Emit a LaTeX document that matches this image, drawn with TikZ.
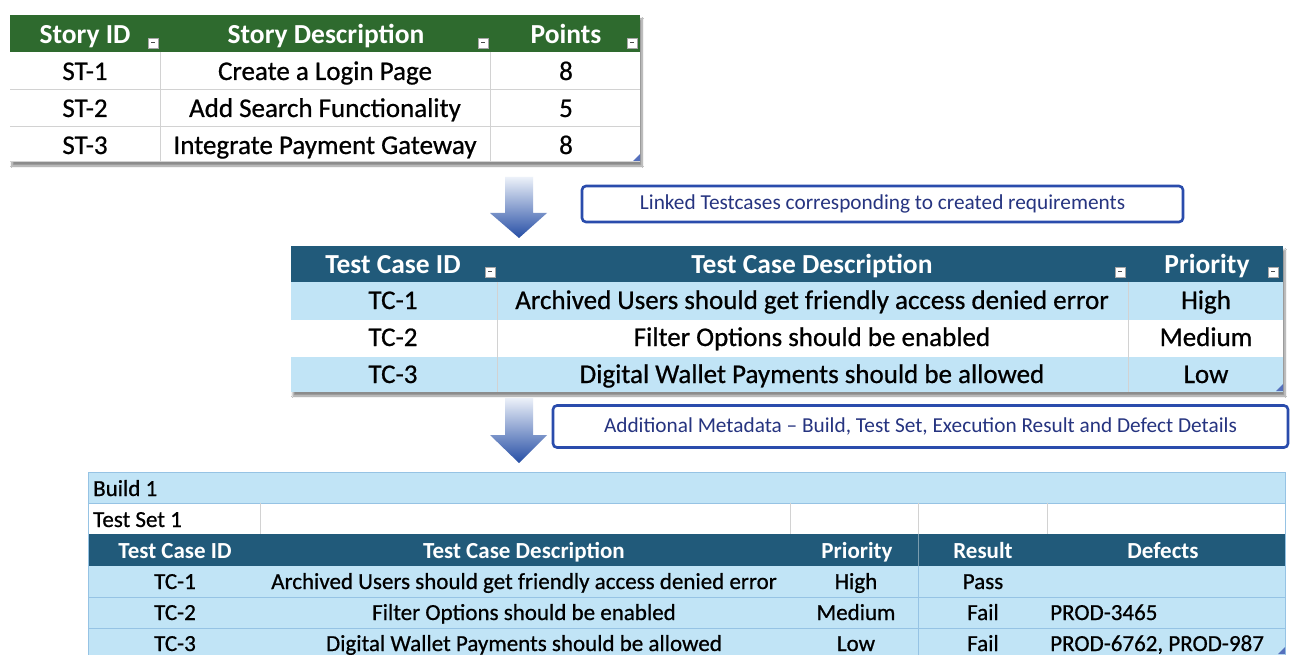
\documentclass[tikz,border=0pt]{standalone}
\usepackage{fontspec}
\setmainfont{Carlito}
\newfontfamily\cellfont{Carlito}[FakeBold=0.7]
\usetikzlibrary{shadows.blur}
\definecolor{hdrgreen}{RGB}{46,106,46}
\definecolor{hdrblue}{RGB}{33,90,122}
\definecolor{rowblue}{RGB}{193,228,246}
\definecolor{gridgray}{RGB}{210,210,210}
\definecolor{gridblue}{RGB}{150,195,228}
\definecolor{callblue}{RGB}{42,76,172}
\definecolor{calltext}{RGB}{38,52,128}
\definecolor{arrowtop}{RGB}{236,241,249}
\definecolor{arrowbot}{RGB}{38,78,165}
\tikzset{
  htxt/.style={font=\fontsize{27.5}{30}\selectfont\bfseries, text=white, inner sep=0pt, anchor=base},
  ctxt/.style={font=\fontsize{27}{30}\selectfont\cellfont, text=black, inner sep=0pt, anchor=base},
  bhtxt/.style={font=\fontsize{23}{26}\selectfont\bfseries, text=white, inner sep=0pt, anchor=base},
  btxt/.style={font=\fontsize{23}{26}\selectfont\cellfont, text=black, inner sep=0pt, anchor=base},
  fbtn/.style={draw=gray!70, fill=white, line width=0.6pt, minimum size=10pt, inner sep=0pt,
    font=\fontsize{6}{6}\selectfont, text=black!70},
  callout/.style={draw=callblue, line width=2.6pt, rounded corners=4pt, fill=white,
    font=\fontsize{21.3}{24}\selectfont, text=calltext, inner sep=0pt},
  gridline/.style={draw=gridgray, line width=1pt},
  bgrid/.style={draw=gridblue, line width=1pt},
  bigarrow/.style={top color=arrowtop, bottom color=arrowbot, draw=none},
  corner/.style={fill=callblue!80}
}
\begin{document}
\begin{tikzpicture}[x=1pt,y=-1pt]
\useasboundingbox[fill=white] (0,0) rectangle (1291,655);

% ---------------- top table ----------------
\fill[white, blur shadow={shadow xshift=2pt, shadow yshift=-4pt, shadow blur steps=8, shadow opacity=45}] (10,15) rectangle (640,162);
\fill[hdrgreen] (10,15) rectangle (640,52);
\draw[gridline] (10,90) -- (640,90);
\draw[gridline] (10,127) -- (640,127);
\draw[gridline] (160,52) -- (160,162);
\draw[gridline] (490,52) -- (490,162);
\draw[gridline] (10,162) -- (640,162);
\node[htxt] (th1) at (85,44) {Story ID};
\node[htxt] (th2) at (326,44) {Story Description};
\node[htxt] (th3) at (566,44) {Points};
\node[fbtn] (tf1) at (153,43) {\rule[1pt]{4pt}{1.2pt}};
\node[fbtn] (tf2) at (483,43) {\rule[1pt]{4pt}{1.2pt}};
\node[fbtn] (tf3) at (632,43) {\rule[1pt]{4pt}{1.2pt}};
\node[ctxt] (t11) at (85,80) {ST-1};
\node[ctxt] (t12) at (325,80) {Create a Login Page};
\node[ctxt] (t13) at (566,80) {8};
\node[ctxt] (t21) at (85,117) {ST-2};
\node[ctxt] (t22) at (325,117) {Add Search Functionality};
\node[ctxt] (t23) at (566,117) {5};
\node[ctxt] (t31) at (85,154) {ST-3};
\node[ctxt] (t32) at (325,154) {Integrate Payment Gateway};
\node[ctxt] (t33) at (566,154) {8};
\fill[corner] (640,161) -- (633,161) -- (640,154) -- cycle;

% ---------------- arrow 1 + callout 1 ----------------
\shade[bigarrow] (505,177) -- (533,177) -- (533,213) -- (547,213) -- (519,238) -- (490,213) -- (505,213) -- cycle;
\node[callout, minimum width=601pt, minimum height=36pt] (c1) at (882.5,204) {Linked Testcases corresponding to created requirements};

% ---------------- middle table ----------------
\fill[white, blur shadow={shadow xshift=2pt, shadow yshift=-4pt, shadow blur steps=8, shadow opacity=45}] (291,246) rectangle (1283,392);
\fill[hdrblue] (291,246) rectangle (1283,282);
\fill[rowblue] (291,282) rectangle (1283,320);
\fill[white] (291,320) rectangle (1283,357);
\fill[rowblue] (291,357) rectangle (1283,392);
\draw[gridline] (497,282) -- (497,392);
\draw[gridline] (1128,282) -- (1128,392);
\node[htxt] (mh1) at (393,273) {Test Case ID};
\node[htxt] (mh2) at (812,273) {Test Case Description};
\node[htxt] (mh3) at (1207,273) {Priority};
\node[fbtn] (mf1) at (490,272) {\rule[1pt]{4pt}{1.2pt}};
\node[fbtn] (mf2) at (1120,272) {\rule[1pt]{4pt}{1.2pt}};
\node[fbtn] (mf3) at (1273,272) {\rule[1pt]{4pt}{1.2pt}};
\node[ctxt] (m11) at (393,309) {TC-1};
\node[ctxt] (m12) at (812,309) {Archived Users should get friendly access denied error};
\node[ctxt] (m13) at (1206,309) {High};
\node[ctxt] (m21) at (393,346) {TC-2};
\node[ctxt] (m22) at (812,346) {Filter Options should be enabled};
\node[ctxt] (m23) at (1206,346) {Medium};
\node[ctxt] (m31) at (393,383) {TC-3};
\node[ctxt] (m32) at (812,383) {Digital Wallet Payments should be allowed};
\node[ctxt] (m33) at (1206,383) {Low};
\fill[corner] (1283,391) -- (1276,391) -- (1283,384) -- cycle;

% ---------------- arrow 2 + callout 2 ----------------
\shade[bigarrow] (505,398) -- (533,398) -- (533,435) -- (547,435) -- (519,463) -- (490,435) -- (505,435) -- cycle;
\node[callout, minimum width=735pt, minimum height=42pt] (c2) at (920.5,426.5) {Additional Metadata -- Build, Test Set, Execution Result and Defect Details};

% ---------------- bottom table ----------------
\fill[rowblue] (88,472) rectangle (1285,503);
\fill[white] (88,503) rectangle (1285,534);
\fill[hdrblue] (88,534) rectangle (1285,566);
\fill[rowblue] (88,566) rectangle (1285,655);
\draw[bgrid] (88,503) -- (1285,503);
\draw[gridline] (260,503) -- (260,534);
\draw[gridline] (790,503) -- (790,534);
\draw[gridline] (918,503) -- (918,534);
\draw[gridline] (1047,503) -- (1047,534);
\draw[bgrid] (88,597) -- (1285,597);
\draw[bgrid] (88,628) -- (1285,628);
\draw[draw=hdrblue!60!white, line width=1pt] (918,534) -- (918,566);
\draw[bgrid] (918,566) -- (918,655);
\draw[bgrid] (88,472) rectangle (1285,660);
\node[btxt, anchor=base west] (bb) at (93,496) {Build 1};
\node[btxt, anchor=base west] (bs) at (93,527) {Test Set 1};
\node[bhtxt] (bh1) at (175,558) {Test Case ID};
\node[bhtxt] (bh2) at (524,558) {Test Case Description};
\node[bhtxt] (bh3) at (857,558) {Priority};
\node[bhtxt] (bh4) at (983,558) {Result};
\node[bhtxt] (bh5) at (1163,558) {Defects};
\node[btxt] (b11) at (175,589) {TC-1};
\node[btxt] (b12) at (524,589) {Archived Users should get friendly access denied error};
\node[btxt] (b13) at (856,589) {High};
\node[btxt] (b14) at (983,589) {Pass};
\node[btxt] (b21) at (175,620) {TC-2};
\node[btxt] (b22) at (524,620) {Filter Options should be enabled};
\node[btxt] (b23) at (856,620) {Medium};
\node[btxt] (b24) at (983,620) {Fail};
\node[btxt, anchor=base west] (b25) at (1050,620) {PROD-3465};
\node[btxt] (b31) at (175,651) {TC-3};
\node[btxt] (b32) at (524,651) {Digital Wallet Payments should be allowed};
\node[btxt] (b33) at (856,651) {Low};
\node[btxt] (b34) at (983,651) {Fail};
\node[btxt, anchor=base west] (b35) at (1050,651) {PROD-6762, PROD-987};
\fill[corner] (1285,654) -- (1278,654) -- (1285,647) -- cycle;
\end{tikzpicture}
\end{document}
